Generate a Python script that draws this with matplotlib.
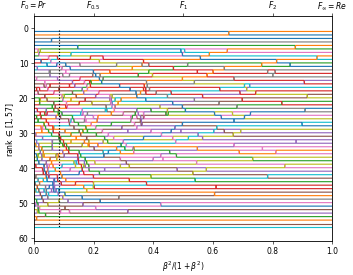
import numpy as np
import matplotlib
matplotlib.use("Agg")
import matplotlib.pyplot as plt

# precision / recall of the 57 methods (colour follows the default cycle)
precision = [0.930, 0.925, 0.8824, 0.8359, 0.7588, 0.7802, 0.8455, 0.907, 0.8859, 0.8686,
             0.905, 0.8085, 0.8205, 0.8754, 0.8297, 0.8552, 0.8145, 0.7885, 0.8391, 0.8027,
             0.8930, 0.7720, 0.7941, 0.8235, 0.7693, 0.8519, 0.7857, 0.8585, 0.7998, 0.7774,
             0.7641, 0.8175, 0.8422, 0.8487, 0.8720, 0.7563, 0.8894, 0.8652, 0.7969, 0.7747,
             0.8789, 0.8056, 0.8266, 0.7913, 0.8115, 0.780, 0.8618, 0.7829, 0.7614, 0.740,
             0.800, 0.760, 0.770, 0.8328, 0.810, 0.750, 0.7667]
recall = [0.900, 0.9025, 0.825, 0.760, 0.745, 0.712, 0.815, 0.851, 0.705, 0.795,
          0.880, 0.835, 0.785, 0.735, 0.630, 0.622, 0.668, 0.770, 0.660, 0.730,
          0.775, 0.800, 0.698, 0.720, 0.615, 0.524, 0.600, 0.755, 0.638, 0.652,
          0.682, 0.592, 0.568, 0.690, 0.607, 0.483, 0.584, 0.675, 0.576, 0.533,
          0.645, 0.471, 0.514, 0.504, 0.542, 0.414, 0.551, 0.458, 0.560, 0.300,
          0.430, 0.356, 0.378, 0.494, 0.397, 0.330, 0.444]

top_ticks = [0.0, 0.2, 0.5, 0.8, 1.0]
top_labels = [r'$F_0 = Pr$', r'$F_{0.5}$', r'$F_1$', r'$F_2$', r'$F_\infty = Re$']
beta_marked = 0.3

pr = np.array(precision)
re = np.array(recall)
n = len(pr)

# x = beta^2 / (1 + beta^2)  ->  1/F = (1 - x)/Pr + x/Re
x = np.linspace(0, 1, 400)
inv_f = (1 - x)[:, None] / pr[None, :] + x[:, None] / re[None, :]
order = np.argsort(inv_f, axis=1)
ranks = np.empty_like(order)
rows = np.arange(len(x))[:, None]
ranks[rows, order] = np.arange(1, n + 1)[None, :]

fig = plt.figure(figsize=(6.4, 4.99), dpi=55.3)
ax = fig.add_axes([0.096, 0.123, 0.843, 0.814])

for i in range(n):
    ax.plot(x, ranks[:, i])

xb = beta_marked**2 / (1 + beta_marked**2)
ax.vlines(xb, 0.5, 57.3, colors='k', linestyles=':', linewidth=1.5, zorder=5)

ax.set_xlim(0, 1)
ax.set_ylim(61, -3.3)
ax.set_xlabel(r'$\beta^2/(1+\beta^2)$')
ax.set_ylabel(r'rank $\in [1, 57]$')

ax2 = ax.twiny()
ax2.set_xlim(0, 1)
ax2.set_xticks(top_ticks)
ax2.set_xticklabels(top_labels)

fig.savefig('out.png', dpi=55.3)
